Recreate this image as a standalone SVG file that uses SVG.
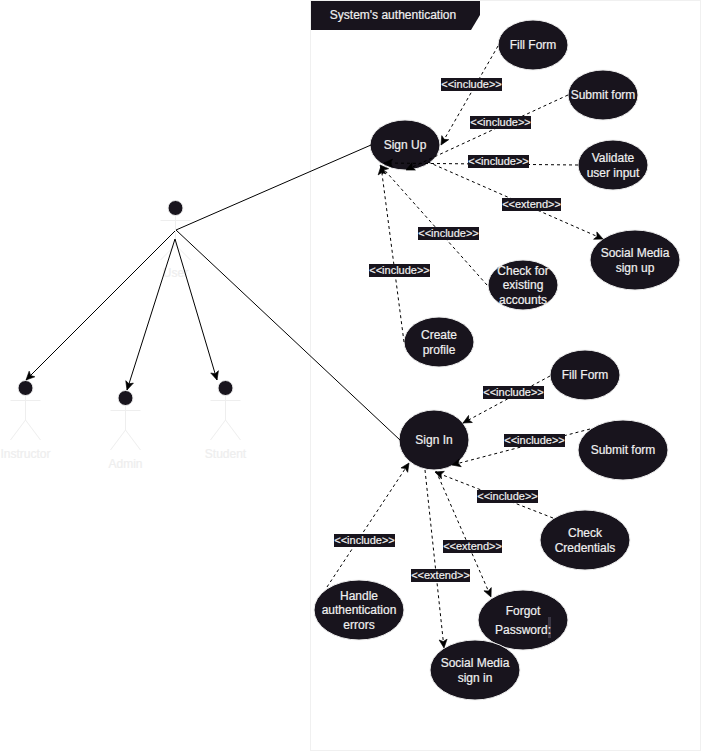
<svg xmlns="http://www.w3.org/2000/svg" width="701" height="751" viewBox="0 0 701 751">
<style>
text{font-family:"Liberation Sans",Arial,sans-serif;font-size:12px;fill:#f0f0f0;stroke:#f0f0f0;stroke-width:.2;text-anchor:middle}
.uc{fill:#18141d;stroke:#eeeeee;stroke-width:1}
.a{fill:none;stroke:#000;stroke-width:1}
.d{fill:none;stroke:#000;stroke-width:1;stroke-dasharray:3 3}
.ln{fill:none;stroke:#eeeeee;stroke-width:1}
.hd{fill:#18141d;stroke:#eeeeee;stroke-width:1}
.lb{fill:#18141d}
.lt{font-size:11px}
.al{fill:#eeeeee;stroke:#eeeeee}
</style>
<defs>
<marker id="ar" markerUnits="userSpaceOnUse" markerWidth="14" markerHeight="12" refX="10" refY="6" orient="auto"><path d="M1.500 2 L10 6 L1.500 10 L3.500 6 Z" fill="#000" stroke="#000" stroke-width=".6"/></marker>
</defs>
<rect x="310.5" y="0.5" width="390" height="750" fill="#fff" stroke="#f0f0f0"/>
<g id="title"><path d="M311 1H480V15L471 30H311Z" fill="#18141d"/><text x="393" y="19">System's authentication</text></g>
<g id="actor-user"><circle class="hd" cx="175.500" cy="208" r="7.500"/><path class="ln" d="M175.500 215.500V245M160.500 220.500H190.500M175.500 245L160.500 260M175.500 245L190.500 260"/><text class="al" x="175.500" y="277">User</text></g>
<g id="actor-instructor"><circle class="hd" cx="25.500" cy="388" r="7.500"/><path class="ln" d="M25.500 395.500V420M10.500 400.500H40.500M25.500 420L10.500 440M25.500 420L40.500 440"/><text class="al" x="25.500" y="458">Instructor</text></g>
<g id="actor-admin"><circle class="hd" cx="125.500" cy="398" r="7.500"/><path class="ln" d="M125.500 405.500V430M110.500 410.500H140.500M125.500 430L110.500 450M125.500 430L140.500 450"/><text class="al" x="125.500" y="468">Admin</text></g>
<g id="actor-student"><circle class="hd" cx="225.500" cy="388" r="7.500"/><path class="ln" d="M225.500 395.500V420M210.500 400.500H240.500M225.500 420L210.500 440M225.500 420L240.500 440"/><text class="al" x="225.500" y="458">Student</text></g>
<g id="uc-signup"><ellipse class="uc" cx="405" cy="145" rx="35" ry="25"/><text x="405" y="149">Sign Up</text></g>
<g id="uc-fillform1"><ellipse class="uc" cx="533" cy="45" rx="35" ry="25"/><text x="533" y="49">Fill Form</text></g>
<g id="uc-submit1"><ellipse class="uc" cx="603" cy="95" rx="35" ry="25"/><text x="603" y="99">Submit form</text></g>
<g id="uc-validate"><ellipse class="uc" cx="613" cy="165" rx="35" ry="25"/><text x="613" y="162">Validate</text><text x="613" y="177">user input</text></g>
<g id="uc-social-up"><ellipse class="uc" cx="635" cy="260" rx="45" ry="30"/><text x="635" y="257">Social Media</text><text x="635" y="272">sign up</text></g>
<g id="uc-check"><ellipse class="uc" cx="523" cy="285" rx="35" ry="25"/><text x="523" y="275">Check for</text><text x="523" y="289">existing</text><text x="523" y="304">accounts</text></g>
<g id="uc-profile"><ellipse class="uc" cx="439" cy="342" rx="35" ry="25"/><text x="439" y="339">Create</text><text x="439" y="354">profile</text></g>
<g id="uc-fillform2"><ellipse class="uc" cx="585" cy="375" rx="35" ry="25"/><text x="585" y="379">Fill Form</text></g>
<g id="uc-signin"><ellipse class="uc" cx="434" cy="440" rx="35" ry="30"/><text x="434" y="444">Sign In</text></g>
<g id="uc-submit2"><ellipse class="uc" cx="623" cy="450" rx="45" ry="30"/><text x="623" y="454">Submit form</text></g>
<g id="uc-cred"><ellipse class="uc" cx="585" cy="540" rx="45" ry="30"/><text x="585" y="537">Check</text><text x="585" y="552">Credentials</text></g>
<g id="uc-forgot"><ellipse class="uc" cx="523" cy="620" rx="45" ry="30"/><rect x="548" y="617" width="3" height="21" fill="#3a3644"/><text x="523" y="615">Forgot</text><text x="523" y="634">Password:</text></g>
<g id="uc-social-in"><ellipse class="uc" cx="475" cy="670" rx="45" ry="30"/><text x="475" y="667">Social Media</text><text x="475" y="682">sign in</text></g>
<g id="uc-errors"><ellipse class="uc" cx="359" cy="610" rx="45" ry="30"/><text x="359" y="600">Handle</text><text x="359" y="614">authentication</text><text x="359" y="629">errors</text></g>
<g id="connectors">
<path class="a" d="M371 145L176 230"/>
<path class="a" d="M400 440L176 230"/>
<path class="a" marker-end="url(#ar)" d="M175 231L26 380"/>
<path class="a" marker-end="url(#ar)" d="M175 239L127 390"/>
<path class="a" marker-end="url(#ar)" d="M175 239L217 380"/>
<path class="d" marker-end="url(#ar)" d="M498 46L441 145"/>
<path class="d" marker-end="url(#ar)" d="M568 95L406 170"/>
<path class="d" marker-end="url(#ar)" d="M578 165L384 163"/>
<path class="d" marker-end="url(#ar)" d="M428 162L603 239"/>
<path class="d" marker-end="url(#ar)" d="M487 285L380 165"/>
<path class="d" marker-end="url(#ar)" d="M404 342L381 166"/>
<path class="d" marker-end="url(#ar)" d="M550 376L463 423"/>
<path class="d" marker-end="url(#ar)" d="M590 429L452 465"/>
<path class="d" marker-end="url(#ar)" d="M553 518L435 472"/>
<path class="d" marker-end="url(#ar)" d="M327 587L409 463"/>
<path class="d" marker-end="url(#ar)" d="M436 471L491 597"/>
<path class="d" marker-end="url(#ar)" d="M425 470L444 648"/>
</g>
<g id="connector-labels">
<rect class="lb" x="441" y="78" width="61" height="13"/><text class="lt" x="471.500" y="88">&lt;&lt;include&gt;&gt;</text>
<rect class="lb" x="470" y="116" width="61" height="13"/><text class="lt" x="500.500" y="126">&lt;&lt;include&gt;&gt;</text>
<rect class="lb" x="468" y="155" width="61" height="13"/><text class="lt" x="498.500" y="165">&lt;&lt;include&gt;&gt;</text>
<rect class="lb" x="502" y="198" width="59" height="13"/><text class="lt" x="531.500" y="208">&lt;&lt;extend&gt;&gt;</text>
<rect class="lb" x="418" y="227" width="61" height="13"/><text class="lt" x="448.500" y="237">&lt;&lt;include&gt;&gt;</text>
<rect class="lb" x="369" y="264" width="61" height="13"/><text class="lt" x="399.500" y="274">&lt;&lt;include&gt;&gt;</text>
<rect class="lb" x="483" y="386" width="61" height="13"/><text class="lt" x="513.500" y="396">&lt;&lt;include&gt;&gt;</text>
<rect class="lb" x="504" y="434" width="61" height="13"/><text class="lt" x="534.500" y="444">&lt;&lt;include&gt;&gt;</text>
<rect class="lb" x="477" y="490" width="61" height="13"/><text class="lt" x="507.500" y="500">&lt;&lt;include&gt;&gt;</text>
<rect class="lb" x="334" y="534" width="61" height="13"/><text class="lt" x="364.500" y="544">&lt;&lt;include&gt;&gt;</text>
<rect class="lb" x="443" y="540" width="59" height="13"/><text class="lt" x="472.500" y="550">&lt;&lt;extend&gt;&gt;</text>
<rect class="lb" x="411" y="569" width="59" height="13"/><text class="lt" x="440.500" y="579">&lt;&lt;extend&gt;&gt;</text>
</g>
</svg>
